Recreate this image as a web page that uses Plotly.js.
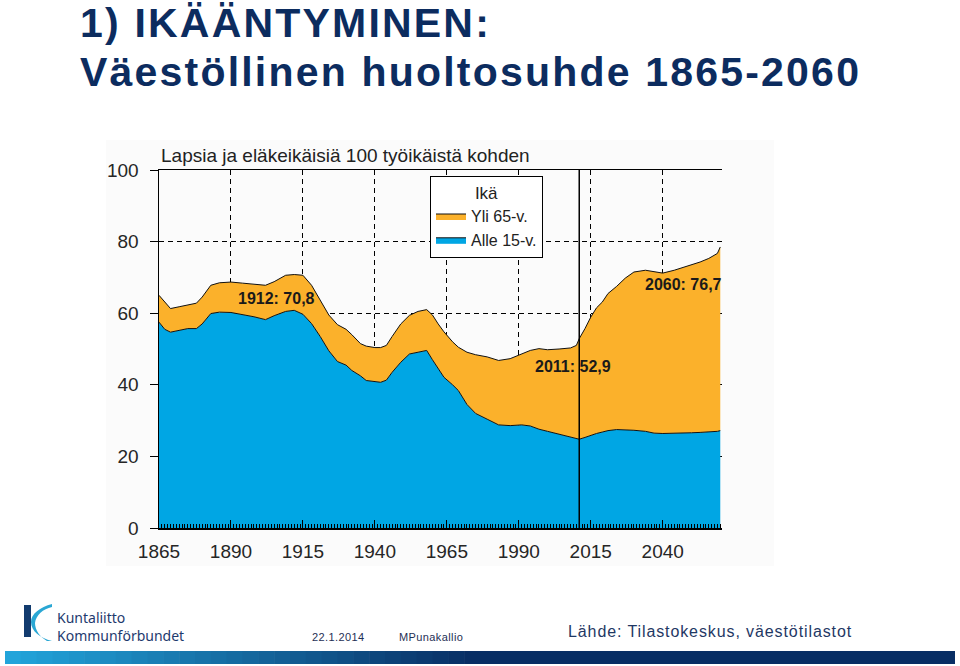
<!DOCTYPE html>
<html><head><meta charset="utf-8">
<script src="https://cdn.plot.ly/plotly-3.0.1.min.js"></script>
<style>
html,body{margin:0;padding:0;background:#fff;}
#chart{width:960px;height:666px;}
</style></head><body><div id="chart"></div>
<script>
// ---- data ----
const years = [1865,1867,1869,1872,1875,1878,1880,1883,1886,1890,1894,1898,1902,1905,1909,1912,1915,1918,1921,1924,1927,1930,1932,1935,1937,1940,1942,1944,1946,1949,1952,1955,1958,1960,1962,1964,1967,1969,1972,1975,1979,1983,1987,1991,1994,1997,2000,2004,2008,2010,2011,2013,2015,2017,2019,2021,2024,2027,2030,2034,2037,2040,2044,2047,2050,2053,2056,2059,2060];
const under15 = [57.5,55.5,54.7,55.2,55.7,55.7,57.0,59.9,60.3,60.2,59.7,59.0,58.2,59.3,60.5,60.8,59.7,57.1,53.5,49.5,46.5,45.5,44.0,42.5,41.2,40.8,40.7,41.3,43.5,46.3,48.6,49.1,49.6,47.0,44.5,42.1,40.0,38.4,34.5,32.0,30.4,28.8,28.6,28.8,28.5,27.6,27.0,26.2,25.5,25.0,24.8,25.3,25.9,26.4,26.8,27.2,27.5,27.5,27.3,27.0,26.5,26.4,26.4,26.5,26.6,26.7,26.8,27.0,27.2];
const over65 = [7.5,7.5,6.6,6.6,6.5,7.1,7.5,7.9,8.2,8.5,8.7,9.0,9.6,9.5,10.1,10.0,10.9,10.7,10.0,10.0,10.3,10.0,10.0,9.0,9.6,9.6,9.7,9.7,10.0,10.7,10.8,11.4,11.4,12.5,12.5,12.7,12.0,12.1,14.6,16.4,17.4,18.0,18.7,19.7,21.1,22.5,22.8,23.8,24.8,26.0,28.1,30.4,33.0,35.1,36.3,38.3,40.0,42.3,44.2,45.0,45.0,44.8,45.6,46.3,46.8,47.6,48.5,49.7,51.3];
const seriesNames = ['Alle 15-v.', 'Yli 65-v.'];
const legendTitle = 'Ikä';
const xTickVals = [1865,1890,1915,1940,1965,1990,2015,2040];
const yTickVals = [0,20,40,60,80,100];
const highlightYears = [1912, 2011, 2060];
const highlightValues = ['70,8', '52,9', '76,7'];
const currentYear = 2011;
const chartTitle = 'Lapsia ja eläkeikäisiä 100 työikäistä kohden';
const slideTitle1 = '1) IKÄÄNTYMINEN:';
const slideTitle2 = 'Väestöllinen huoltosuhde 1865-2060';
const orgName1 = 'Kuntaliitto';
const orgName2 = 'Kommunförbundet';
const dateText = '22.1.2014';
const authorText = 'MPunakallio';
const sourceText = 'Lähde: Tilastokeskus, väestötilastot';

// ---- layout helpers (pixel -> paper) ----
const L = 159, R = 722, T = 170, B = 528, W = 960, H = 666;
const px = x => (x - L) / (R - L);
const py = y => (B - y) / (B - T);

const BLUE = '#00a6e4', ORANGE = '#fbb12b', NAVY = '#0c2c5f';
const tickFont = {family: 'Liberation Sans, Arial, sans-serif', size: 19, color: '#262626'};

const traces = [
  {x: years, y: under15, name: seriesNames[0], type: 'scatter', mode: 'lines', stackgroup: 'one',
   fillcolor: BLUE, line: {color: '#111', width: 1}, hoverinfo: 'x+y'},
  {x: years, y: over65, name: seriesNames[1], type: 'scatter', mode: 'lines', stackgroup: 'one',
   fillcolor: ORANGE, line: {color: '#111', width: 1}, hoverinfo: 'x+y'}
];

const shapes = [];
// chart image background
shapes.push({type: 'rect', xref: 'paper', yref: 'paper', x0: px(106), x1: px(774), y0: py(140), y1: py(566),
  fillcolor: '#fbfbfb', line: {width: 0}, layer: 'below'});
// current-year vertical line
shapes.push({type: 'line', xref: 'x', yref: 'paper', x0: currentYear, x1: currentYear, y0: 0, y1: 1,
  line: {color: '#000', width: 1.5}, layer: 'above'});
// footer logo
const P = (x, y) => px(x).toFixed(5) + ',' + py(y).toFixed(5);
shapes.push({type: 'rect', xref: 'paper', yref: 'paper', x0: px(24), x1: px(31), y0: py(637), y1: py(605),
  fillcolor: '#123b6e', line: {width: 0}});
shapes.push({type: 'path', xref: 'paper', yref: 'paper',
  path: 'M' + P(52, 604) + ' C' + P(40, 607) + ' ' + P(31, 614) + ' ' + P(31, 622) +
        ' C' + P(31, 631) + ' ' + P(40, 638) + ' ' + P(52, 641) +
        ' L' + P(47, 641) + ' C' + P(40, 637) + ' ' + P(35, 630) + ' ' + P(35, 623) +
        ' C' + P(36, 615) + ' ' + P(43, 609) + ' ' + P(52, 607) + ' Z',
  fillcolor: '#2aa7d4', line: {width: 0}});
// footer bar: gradient approximated by segments
const gStart = [34, 164, 218], gEnd = [8, 46, 100];
const segs = 30, gx0 = 5, gx1 = 480;
for (let i = 0; i < segs; i++) {
  const t = i / (segs - 1);
  const c = gStart.map((v, k) => Math.round(v + (gEnd[k] - v) * t));
  shapes.push({type: 'rect', xref: 'paper', yref: 'paper',
    x0: px(gx0 + (gx1 - gx0) * i / segs), x1: px(gx0 + (gx1 - gx0) * (i + 1) / segs + 0.6),
    y0: py(664), y1: py(651), fillcolor: 'rgb(' + c.join(',') + ')', line: {width: 0}});
}
shapes.push({type: 'rect', xref: 'paper', yref: 'paper', x0: px(gx1), x1: px(955), y0: py(664), y1: py(651),
  fillcolor: 'rgb(8,46,100)', line: {width: 0}});

const labelFont = {family: 'Liberation Sans, Arial, sans-serif', size: 16, color: '#1a1a1a', weight: 'bold'};
const leftNote = (x, y, text, font) => ({xref: 'paper', yref: 'paper', x: px(x), y: py(y),
  xanchor: 'left', yanchor: 'middle', align: 'left', showarrow: false, text: text, font: font});
const annotations = [
  leftNote(78, 23, '<b>' + slideTitle1 + '</b>', {family: 'Liberation Sans, Arial, sans-serif', size: 41, color: NAVY}),
  leftNote(78, 72, '<b>' + slideTitle2 + '</b>', {family: 'Liberation Sans, Arial, sans-serif', size: 41, color: NAVY}),
  leftNote(159, 155, chartTitle, {family: 'Liberation Sans, Arial, sans-serif', size: 19, color: '#222'}),
  {xref: 'x', yref: 'y', x: 1905.7, y: 64.2, showarrow: false,
   text: '<b>' + highlightYears[0] + ': ' + highlightValues[0] + '</b>', font: labelFont},
  {xref: 'x', yref: 'y', x: 2009, y: 45.0, showarrow: false,
   text: '<b>' + highlightYears[1] + ': ' + highlightValues[1] + '</b>', font: labelFont},
  {xref: 'x', yref: 'y', x: 2047.3, y: 67.9, showarrow: false,
   text: '<b>' + highlightYears[2] + ': ' + highlightValues[2] + '</b>', font: labelFont},
  leftNote(55, 626.5, orgName1 + '<br>' + orgName2, {family: 'Noto Sans, sans-serif', size: 14, color: '#1e3a6e'}),
  leftNote(310, 637, dateText, {family: 'Liberation Sans, Arial, sans-serif', size: 11, color: '#1e2f55'}),
  leftNote(397, 637, authorText, {family: 'Liberation Sans, Arial, sans-serif', size: 11, color: '#1e2f55'}),
  leftNote(566, 631, sourceText, {family: 'Liberation Sans, Arial, sans-serif', size: 16, color: '#1f3864'})
];

const gridDash = '5px,4px';
const layout = {
  width: W, height: H,
  margin: {l: L, r: W - R, t: T, b: H - B, pad: 0},
  paper_bgcolor: '#ffffff', plot_bgcolor: 'rgba(0,0,0,0)',
  showlegend: true,
  legend: {x: px(430), y: py(176), xanchor: 'left', yanchor: 'top', bgcolor: '#ffffff',
    bordercolor: '#000', borderwidth: 1, traceorder: 'reversed',
    font: {family: 'Liberation Sans, Arial, sans-serif', size: 16, color: '#222'},
    title: {text: legendTitle, side: 'top center', font: {family: 'Liberation Sans, Arial, sans-serif', size: 17, color: '#222'}},
    itemwidth: 30, tracegroupgap: 0},
  xaxis: {range: [1865, 2060.6], tickvals: xTickVals, ticktext: xTickVals.map(String),
    ticks: 'inside', ticklen: 8, tickwidth: 1, tickcolor: '#000',
    showline: true, linecolor: '#000', linewidth: 1.5, mirror: true,
    showgrid: true, gridcolor: '#000', gridwidth: 1, griddash: gridDash, zeroline: false,
    tickfont: tickFont, ticklabelstandoff: 6,
    minor: {dtick: 1, tick0: 1865, ticks: 'inside', ticklen: 4, tickwidth: 1, tickcolor: '#000', showgrid: false}},
  xaxis2: {overlaying: 'x', matches: 'x', anchor: 'y', side: 'bottom', tickvals: xTickVals,
    ticks: 'outside', ticklen: 8, tickwidth: 1, tickcolor: '#000', showticklabels: false,
    showgrid: false, showline: false, zeroline: false},
  yaxis: {range: [0, 100], tickvals: yTickVals, ticks: 'outside', ticklen: 8, tickwidth: 1, tickcolor: '#000',
    showline: true, linecolor: '#000', linewidth: 1.5,
    showgrid: true, gridcolor: '#000', gridwidth: 1, griddash: gridDash, zeroline: false,
    tickfont: tickFont, ticklabelstandoff: 7},
  yaxis2: {overlaying: 'y', side: 'right', anchor: 'x', range: [0, 100], tickvals: yTickVals,
    ticks: 'outside', ticklen: 8, tickwidth: 1, tickcolor: '#000',
    showline: true, linecolor: '#000', linewidth: 1.5, showgrid: false, zeroline: false,
    tickfont: tickFont, ticklabelstandoff: 7},
  yaxis3: {overlaying: 'y', side: 'left', anchor: 'x', range: [0, 100], tickvals: yTickVals,
    ticks: 'inside', ticklen: 8, tickwidth: 1, tickcolor: '#000', showticklabels: false,
    showline: false, showgrid: false, zeroline: false},
  yaxis4: {overlaying: 'y', side: 'right', anchor: 'x', range: [0, 100], tickvals: yTickVals,
    ticks: 'inside', ticklen: 8, tickwidth: 1, tickcolor: '#000', showticklabels: false,
    showline: false, showgrid: false, zeroline: false},
  shapes: shapes,
  annotations: annotations
};

Plotly.newPlot('chart', traces, layout, {displayModeBar: false, staticPlot: true}).then(gd => {
  gd.querySelectorAll('.annotation-text').forEach(t => {
    const s = t.textContent;
    if (s === slideTitle1 || s === slideTitle2) t.style.letterSpacing = '2.2px';
    if (s === sourceText) t.style.letterSpacing = '0.9px';
    if (s === dateText || s === authorText) t.style.letterSpacing = '0.4px';
  });
});
</script></body></html>
